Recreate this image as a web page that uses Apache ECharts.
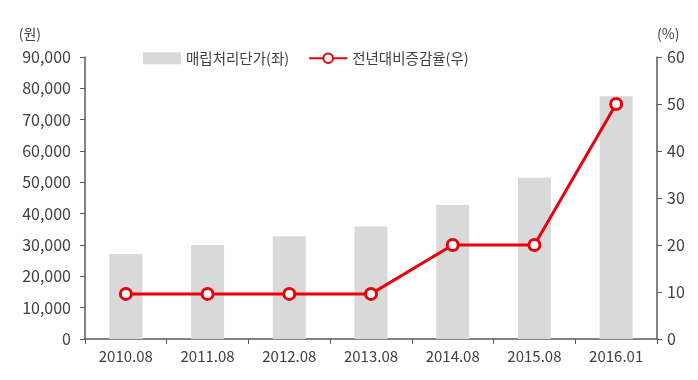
<!DOCTYPE html>
<html><head><meta charset="utf-8">
<script src="https://cdn.jsdelivr.net/npm/echarts@6/dist/echarts.min.js"></script>
<style>html,body{margin:0;padding:0;background:#fff}#c{width:698px;height:380px}</style>
</head><body><div id="c"></div>
<script>
const categories = ['2010.08','2011.08','2012.08','2013.08','2014.08','2015.08','2016.01'];
const unitPrice = [27100, 30000, 32800, 35900, 42800, 51500, 77500];
const yoyRate = [9.6, 9.6, 9.6, 9.6, 20, 20, 50];
const leftTicks = [0, 90000, 10000];
const rightTicks = [0, 60, 10];
const barName = '매립처리단가(좌)';
const lineName = '전년대비증감율(우)';

const font = '"Noto Sans CJK KR", "Noto Sans", sans-serif';
const axisColor = '#595959';
const textColor = '#404040';
const chart = echarts.init(document.getElementById('c'));
chart.setOption({
  animation: false,
  textStyle: {fontFamily: font},
  legend: {
    top: 46, left: 138, itemGap: 19, itemWidth: 38, itemHeight: 12,
    textStyle: {fontSize: 14.5, color: textColor, fontFamily: font},
    data: [
      {name: barName, icon: 'rect'},
      {name: lineName}
    ]
  },
  grid: {left: 85, right: 41, top: 57, bottom: 41, containLabel: false},
  xAxis: {
    type: 'category', data: categories,
    axisLine: {lineStyle: {color: axisColor, width: 1.5}},
    axisTick: {show: true, inside: false, length: 5, alignWithLabel: false, lineStyle: {color: axisColor}},
    axisLabel: {color: textColor, fontSize: 15, margin: 10, fontFamily: font}
  },
  yAxis: [
    {
      type: 'value', min: leftTicks[0], max: leftTicks[1], interval: leftTicks[2],
      name: '(원)', nameLocation: 'end', nameGap: 16,
      nameTextStyle: {color: textColor, fontSize: 14, align: 'right', padding: [0, 44, 0, 0]},
      axisLine: {show: true, lineStyle: {color: axisColor, width: 1.5}},
      axisTick: {show: true, length: 5, lineStyle: {color: axisColor}},
      splitLine: {show: false},
      axisLabel: {color: textColor, fontSize: 16, margin: 14,
        formatter: v => v.toLocaleString('en-US')}
    },
    {
      type: 'value', min: rightTicks[0], max: rightTicks[1], interval: rightTicks[2],
      name: '(%)', nameLocation: 'end', nameGap: 16,
      nameTextStyle: {color: textColor, fontSize: 14, align: 'left', padding: [0, 0, 0, 0]},
      axisLine: {show: true, lineStyle: {color: axisColor, width: 1.5}},
      axisTick: {show: true, length: 5, lineStyle: {color: axisColor}},
      splitLine: {show: false},
      axisLabel: {color: textColor, fontSize: 16, margin: 10}
    }
  ],
  series: [
    {
      name: barName, type: 'bar', data: unitPrice, yAxisIndex: 0,
      barWidth: 33, itemStyle: {color: '#d9d9d9'}
    },
    {
      name: lineName, type: 'line', data: yoyRate, yAxisIndex: 1,
      symbol: 'circle', symbolSize: 11,
      lineStyle: {color: '#e8000b', width: 3},
      itemStyle: {color: '#ffffff', borderColor: '#e8000b', borderWidth: 3}
    }
  ]
});
</script>
</body></html>
